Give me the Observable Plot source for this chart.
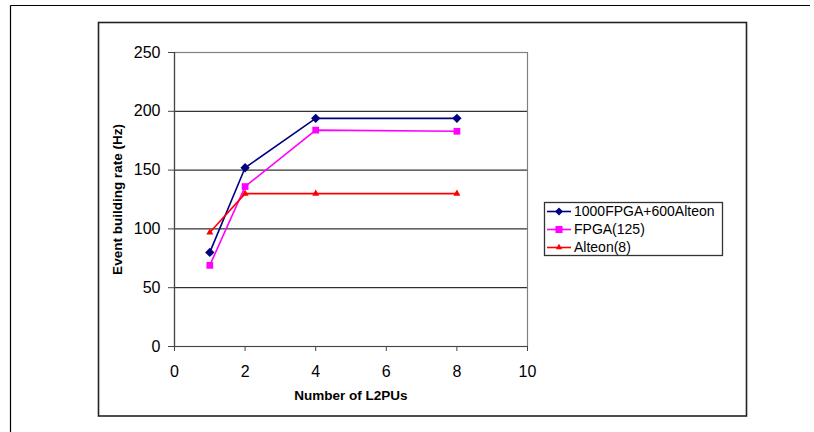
<!DOCTYPE html>
<html>
<head>
<meta charset="utf-8">
<script src="https://cdn.jsdelivr.net/npm/d3@7"></script>
<script src="https://cdn.jsdelivr.net/npm/@observablehq/plot@0.6"></script>
<style>
  html, body { margin: 0; padding: 0; background: #fff; }
  #chart svg { display: block; }
</style>
</head>
<body>
<div id="chart"></div>
<script>
// ---- data ----
const xValues = [1, 2, 4, 8];
const seriesNames = ["1000FPGA+600Alteon", "FPGA(125)", "Alteon(8)"];
const combinedRate = [80, 152, 194, 194];
const fpgaRate = [69, 136, 184, 183];
const alteonRate = [97, 130, 130, 130];
const seriesColors = ["#000080", "#ff00ff", "#ff0000"];
const seriesSymbols = ["diamond2", "square", "triangle"];
const xTicks = [0, 2, 4, 6, 8, 10];
const yTicks = [0, 50, 100, 150, 200, 250];
const gridValues = [50, 100, 150, 200];
const xTitle = "Number of L2PUs";
const yTitle = "Event building rate (Hz)";

const seriesValues = [combinedRate, fpgaRate, alteonRate];
const rows = [];
seriesNames.forEach((name, i) => {
  xValues.forEach((x, j) => rows.push({series: name, x, y: seriesValues[i][j]}));
});

const font = "Liberation Sans, Arial, sans-serif";
const symbolSizes = {diamond2: 4.2, square: 3.8, triangle: 2.6};

const marks = [
  Plot.ruleY(gridValues, {stroke: "#000", strokeWidth: 1}),
  Plot.frame({stroke: "#808080", strokeWidth: 1.2}),
  Plot.ruleX([0], {stroke: "#444", strokeWidth: 1.2}),
  Plot.ruleY([0], {stroke: "#444", strokeWidth: 1.2}),
  Plot.axisY({ticks: yTicks, tickSize: 6, tickPadding: 8, fontSize: 16, label: null, stroke: "#444"}),
  Plot.axisX({ticks: xTicks, tickSize: 5, tickPadding: 14, fontSize: 16, label: null, stroke: "#444"}),
  Plot.text([yTitle], {frameAnchor: "left", dx: -57, rotate: -90, textAnchor: "middle", lineAnchor: "middle", fontSize: 13.5, fontWeight: "bold", fill: "#000"}),
  Plot.text([xTitle], {frameAnchor: "bottom", dy: 49, textAnchor: "middle", lineAnchor: "middle", fontSize: 13.5, fontWeight: "bold", fill: "#000"})
];
seriesNames.forEach((name, i) => {
  const d = rows.filter(r => r.series === name);
  marks.push(Plot.line(d, {x: "x", y: "y", stroke: seriesColors[i], strokeWidth: 1.6}));
  marks.push(Plot.dot(d, {x: "x", y: "y", symbol: () => seriesSymbols[i], fill: seriesColors[i], stroke: "none", r: symbolSizes[seriesSymbols[i]]}));
});

const chart = Plot.plot({
  width: 814,
  height: 432,
  marginLeft: 174,
  marginRight: 287,
  marginTop: 52,
  marginBottom: 86,
  style: {fontFamily: font, color: "#000", background: "#fff"},
  x: {domain: [0, 10], label: null},
  y: {domain: [0, 250], label: null},
  symbol: {type: "identity"},
  marks
});
document.getElementById("chart").appendChild(chart);

// ---- decorations: page frame, chart box, legend ----
const svg = d3.select(chart);
const deco = svg.insert("g", ":first-child");
deco.append("line").attr("x1", 10.5).attr("x2", 810).attr("y1", 5.5).attr("y2", 5.5).attr("stroke", "#000").attr("stroke-width", 1.2);
deco.append("line").attr("x1", 10.5).attr("x2", 10.5).attr("y1", 5.5).attr("y2", 432).attr("stroke", "#000").attr("stroke-width", 1.2);
deco.append("rect").attr("x", 98.5).attr("y", 22.5).attr("width", 648).attr("height", 393.5)
  .attr("fill", "none").attr("stroke", "#222").attr("stroke-width", 1.6);

const legend = svg.append("g").attr("font-family", font).attr("text-anchor", "start");
legend.append("rect").attr("x", 544.5).attr("y", 202.5).attr("width", 178).attr("height", 53)
  .attr("fill", "#fff").attr("stroke", "#333").attr("stroke-width", 1.3);
const symGen = {
  diamond2: d3.symbol(d3.symbolDiamond2, 40),
  square: d3.symbol(d3.symbolSquare, 50),
  triangle: d3.symbol(d3.symbolTriangle, 18)
};
seriesNames.forEach((name, i) => {
  const cy = 211.5 + i * 18;
  const g = legend.append("g");
  g.append("line").attr("x1", 547).attr("x2", 571).attr("y1", cy).attr("y2", cy)
    .attr("stroke", seriesColors[i]).attr("stroke-width", 1.6);
  g.append("path").attr("d", symGen[seriesSymbols[i]]()).attr("transform", `translate(559,${cy})`)
    .attr("fill", seriesColors[i]);
  g.append("text").attr("x", 574).attr("y", cy).attr("dy", "0.35em").attr("font-size", 14)
    .attr("text-anchor", "start").attr("fill", "#000").text(name);
});
</script>
</body>
</html>
